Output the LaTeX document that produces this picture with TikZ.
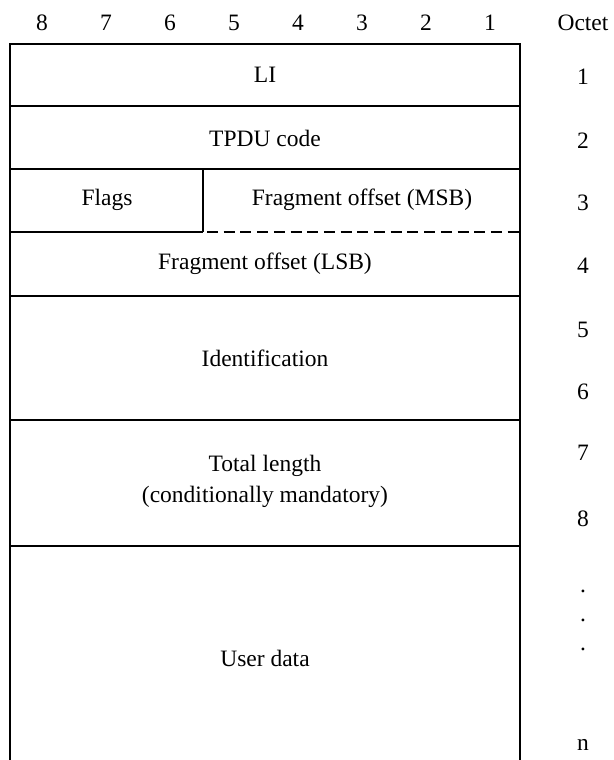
\documentclass[tikz,border=0pt]{standalone}
\usepackage{fontspec}
\setmainfont{Liberation Serif}
\usetikzlibrary{positioning}

\begin{document}
\begin{tikzpicture}[x=1pt, y=-1pt, line width=1.8pt, font=\fontsize{23.5}{28}\selectfont]
        \def\xL{10}
        \def\xR{520}
        \def\xF{203}
        \def\xO{583}
        \def\yBot{760}

        \useasboundingbox (0,0) rectangle (613,760);

        \coordinate (TL) at (\xL,44);
        \coordinate (TR) at (\xR,44);
        \coordinate (BL) at (\xL,\yBot);
        \coordinate (BR) at (\xR,\yBot);

        \draw (BL) -- (TL) -- (TR) -- (BR);
        \draw (\xL,106) -- (\xR,106);
        \draw (\xL,169) -- (\xR,169);
        \draw (\xF,169) -- (\xF,232);
        \draw (\xL,232) -- (\xF,232);
        \draw[dash pattern=on 11pt off 5.7pt] (\xF+4,232) -- (\xR,232);
        \draw (\xL,296) -- (\xR,296);
        \draw (\xL,420) -- (\xR,420);
        \draw (\xL,546) -- (\xR,546);

        \foreach \b in {1,...,8}
            \node (bit\b) at ({\xL + 32 + (8-\b)*64}, 23) {\b};
        \node (octet) at (\xO, 23) {Octet};

        \node (li) at (265,75) {LI};
        \node (tpdu) at (265,138) {TPDU code};
        \node (flags) at (107,200) {Flags};
        \node (msb) at (362,200) {Fragment offset (MSB)};
        \node (lsb) at (265,264) {Fragment offset (LSB)};
        \node (ident) at (265,358) {Identification};
        \node[align=center, font=\fontsize{23.5}{31}\selectfont] (total) at (265,481) {Total length\\(conditionally mandatory)};
        \node (user) at (265,658) {User data};

        \node (o1) at (\xO,77) {1};
        \node (o2) at (\xO,141) {2};
        \node (o3) at (\xO,203) {3};
        \node (o4) at (\xO,266) {4};
        \node (o5) at (\xO,330) {5};
        \node (o6) at (\xO,392) {6};
        \node (o7) at (\xO,453) {7};
        \node (o8) at (\xO,519) {8};
        \node (d1) at (\xO,591) {.};
        \node (d2) at (\xO,620) {.};
        \node (d3) at (\xO,649) {.};
        \node (on) at (\xO,745) {n};
    \end{tikzpicture}
\end{document}
